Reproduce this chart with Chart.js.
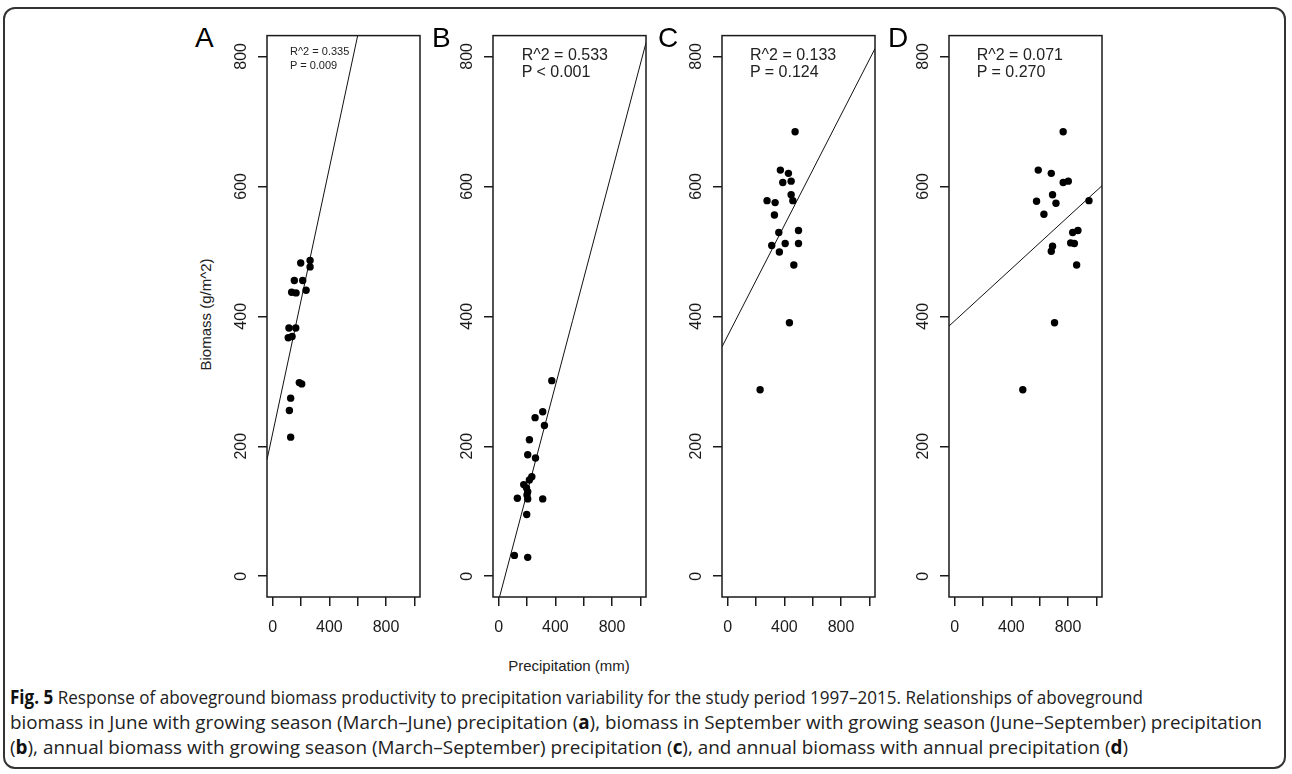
<!DOCTYPE html>
<html><head><meta charset="utf-8">
<script src="https://cdn.jsdelivr.net/npm/chart.js@4.4.0/dist/chart.umd.min.js"></script>
<style>
html,body{margin:0;padding:0;background:#fff;}
#fig{position:relative;width:1292px;height:774px;overflow:hidden;font-family:"Liberation Sans",Arial,sans-serif;color:#111;background:#fff;}
#frame{position:absolute;left:3px;top:7px;width:1283px;height:762px;border:2px solid #333;border-radius:12px;box-sizing:border-box;}
canvas{position:absolute;}
.lab{position:absolute;white-space:nowrap;line-height:1;}
.letter{font-size:28px;color:#000;}
.stat{font-size:16px;color:#222;}
.statSmall{font-size:11px;color:#222;}
.axt{font-size:15px;color:#222;width:220px;text-align:center;line-height:15px;}
#caption{position:absolute;left:10px;top:685px;font-family:"Open Sans",sans-serif;font-size:19px;line-height:25px;color:#222;}
#caption .cl{display:block;white-space:nowrap;transform-origin:0 0;width:max-content;}
#caption b{color:#111;}
</style></head><body>
<div id="fig">
  <div id="frame"></div>
  <canvas id="c0" width="208" height="619"></canvas>
  <canvas id="c1" width="208" height="619"></canvas>
  <canvas id="c2" width="208" height="619"></canvas>
  <canvas id="c3" width="208" height="619"></canvas>
  <div class="lab letter" style="left:195px;top:24.4px">A</div>
  <div class="lab letter" style="left:432px;top:24.4px">B</div>
  <div class="lab letter" style="left:658px;top:24.4px">C</div>
  <div class="lab letter" style="left:888px;top:24.4px">D</div>
  <div id="stats"></div>
  <div class="lab axt" style="left:95px;top:306.5px;transform:rotate(-90deg);">Biomass (g/m^2)</div>
  <div class="lab axt" style="left:459px;top:657.5px;">Precipitation (mm)</div>
  <div id="caption"><span class="cl" id="cl1"><b>Fig. 5</b> Response of aboveground biomass productivity to precipitation variability for the study period 1997–2015. Relationships of aboveground</span><span class="cl" id="cl2">biomass in June with growing season (March–June) precipitation (<b>a</b>), biomass in September with growing season (June–September) precipitation</span><span class="cl" id="cl3">(<b>b</b>), annual biomass with growing season (March–September) precipitation (<b>c</b>), and annual biomass with annual precipitation (<b>d</b>)</span></div>
</div>
<script>
// ---- data ----
const panelLetters = ['A','B','C','D'];
const precipA = [198, 264, 264, 153, 212, 134, 165, 236, 115, 163, 110, 137, 188, 205, 127, 118, 127];
const biomassA = [482, 486, 476, 455, 455, 437, 436, 440, 382, 382, 367, 369, 298, 296, 274, 255, 214];
const precipB = [375, 311, 257, 323, 217, 205, 260, 234, 217, 177, 196, 205, 132, 205, 311, 198, 111, 205, 200];
const biomassB = [301, 253, 244, 232, 210, 187, 182, 153, 148, 141, 136, 130, 120, 119, 119, 95, 32, 29, 125];
const precipC = [476, 372, 429, 389, 448, 448, 460, 278, 335, 330, 361, 500, 500, 406, 311, 365, 467, 436, 229];
const biomassC = [684, 625, 620, 606, 608, 587, 578, 578, 575, 556, 529, 532, 512, 512, 509, 499, 479, 390, 287];
const precipD = [766, 590, 682, 766, 802, 578, 691, 715, 630, 833, 870, 819, 691, 682, 861, 705, 481, 948, 845];
const biomassD = [684, 625, 620, 606, 608, 577, 587, 574, 557, 529, 532, 513, 508, 500, 479, 390, 287, 578, 512];
const fitIntercept = [220, -37, 370, 393];
const fitSlope = [1.02, 0.825, 0.425, 0.2];
const r2Labels = ['R^2 = 0.335', 'R^2 = 0.533', 'R^2 = 0.133', 'R^2 = 0.071'];
const pLabels = ['P = 0.009', 'P < 0.001', 'P = 0.124', 'P = 0.270'];
const xTicks = [0, 200, 400, 600, 800, 1000];
const xTickLabels = [0, 400, 800];
const yTicks = [0, 200, 400, 600, 800];
const xRange = [-40, 1040];
const yRange = [-32, 832];

// ---- layout ----
const precip = [precipA, precipB, precipC, precipD];
const biomass = [biomassA, biomassB, biomassC, biomassD];
const boxLeft = [266.7, 493.3, 721.7, 949.3];
const boxTop = 33;
const yAxisW = 45, xAxisH = 45, padTop = 10, padRight = 10;
const statPos = [{x:290, y1:45.5, y2:59.5, cls:'statSmall'}, {x:521.7, y1:47, y2:64, cls:'stat'}, {x:750, y1:47, y2:64, cls:'stat'}, {x:976.7, y1:47, y2:64, cls:'stat'}];

const ink = '#1a1a1a';
const framePlugin = {
  id: 'frameBox',
  afterDatasetsDraw(chart) {
    const {ctx, chartArea: a} = chart;
    ctx.save();
    ctx.strokeStyle = ink; ctx.lineWidth = 1.5;
    ctx.strokeRect(a.left, a.top, a.right - a.left, a.bottom - a.top);
    ctx.restore();
  }
};

const stats = document.getElementById('stats');
for (let i = 0; i < 4; i++) {
  const cv = document.getElementById('c' + i);
  cv.style.left = (boxLeft[i] - yAxisW) + 'px';
  cv.style.top = (boxTop - padTop) + 'px';
  const pts = precip[i].map((x, k) => ({x: x, y: biomass[i][k]}));
  const fit = xRange.map(x => ({x: x, y: fitIntercept[i] + fitSlope[i] * x}));
  new Chart(cv, {
    type: 'scatter',
    data: {datasets: [
      {data: pts, pointRadius: 3.7, pointHoverRadius: 3.7, pointBackgroundColor: '#000', pointBorderWidth: 0, showLine: false},
      {type: 'line', data: fit, showLine: true, borderColor: '#111', borderWidth: 1, pointRadius: 0, fill: false, tension: 0}
    ]},
    options: {
      responsive: false, animation: false, events: [],
      layout: {padding: {left: 0, right: padRight, top: padTop, bottom: 0}},
      plugins: {legend: {display: false}, tooltip: {enabled: false}},
      scales: {
        x: {
          type: 'linear', min: xRange[0], max: xRange[1],
          afterBuildTicks: s => { s.ticks = xTicks.map(v => ({value: v})); },
          afterFit: s => { s.height = xAxisH; },
          grid: {drawOnChartArea: false, drawTicks: true, tickLength: 9, color: ink, lineWidth: 1.5},
          border: {display: false},
          ticks: {autoSkip: false, maxRotation: 0, minRotation: 0, padding: 12, color: ink,
                  font: {family: 'Liberation Sans', size: 16},
                  callback: v => xTickLabels.includes(v) ? String(v) : ''}
        },
        y: {
          type: 'linear', min: yRange[0], max: yRange[1],
          afterBuildTicks: s => { s.ticks = yTicks.map(v => ({value: v})); },
          afterFit: s => { s.width = yAxisW; },
          grid: {drawOnChartArea: false, drawTicks: true, tickLength: 9, color: ink, lineWidth: 1.5},
          border: {display: false},
          ticks: {autoSkip: false, minRotation: 90, maxRotation: 90, crossAlign: 'center', padding: 3, color: ink,
                  font: {family: 'Liberation Sans', size: 16},
                  callback: v => String(v)}
        }
      }
    },
    plugins: [framePlugin]
  });
  const sp = statPos[i];
  const d1 = document.createElement('div');
  d1.className = 'lab ' + sp.cls; d1.style.left = sp.x + 'px'; d1.style.top = sp.y1 + 'px'; d1.textContent = r2Labels[i];
  const d2 = document.createElement('div');
  d2.className = 'lab ' + sp.cls; d2.style.left = sp.x + 'px'; d2.style.top = sp.y2 + 'px'; d2.textContent = pLabels[i];
  stats.appendChild(d1); stats.appendChild(d2);
}
// fit each caption line to the width it spans in the reference
const capWidths = [1133, 1252, 1118];
['cl1', 'cl2', 'cl3'].forEach((id, k) => {
  const el = document.getElementById(id);
  const w = el.getBoundingClientRect().width;
  el.style.transform = 'scaleX(' + (capWidths[k] / w) + ')';
});
</script>
</body></html>
